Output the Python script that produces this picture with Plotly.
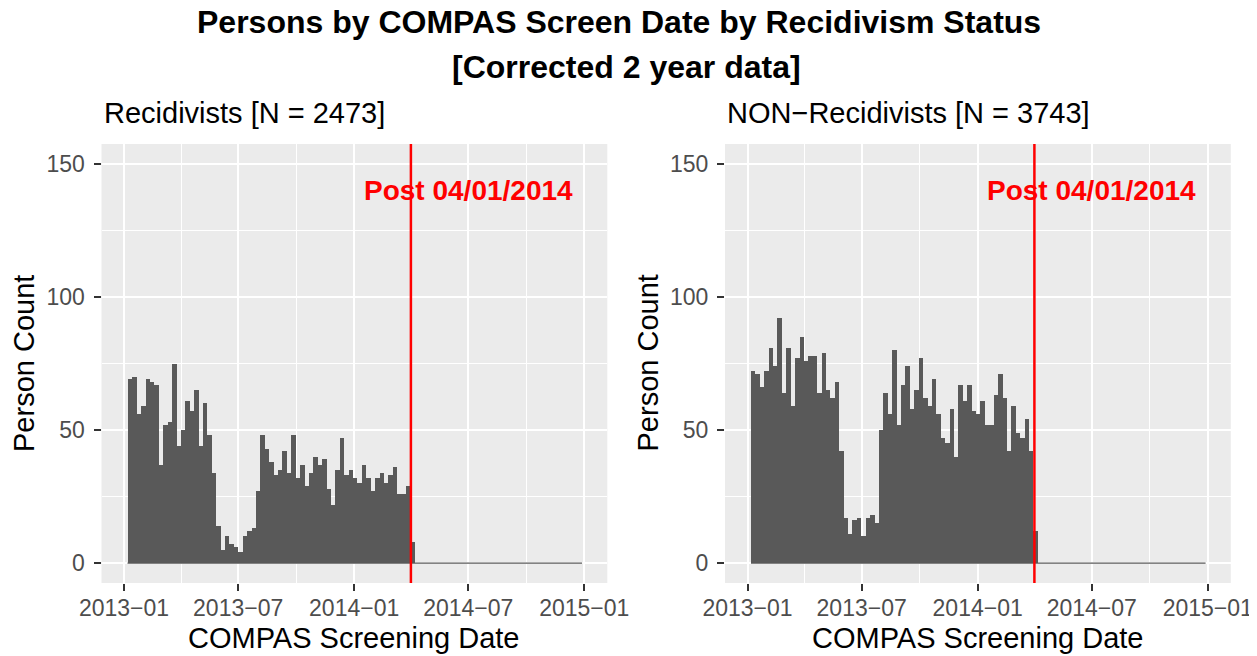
import plotly.graph_objects as go
import pandas as pd

# ---------------- data ----------------
title_line1 = "Persons by COMPAS Screen Date by Recidivism Status"
title_line2 = "[Corrected 2 year data]"
panel_titles = ["Recidivists [N = 2473]", "NON−Recidivists [N = 3743]"]
x_title = "COMPAS Screening Date"
y_title = "Person Count"

bin_start = "2013-01-06 12:00"
bin_width_days = 7

recid_counts = [69, 70, 56, 59, 69, 68, 67, 37, 52, 53,
                75, 44, 50, 61, 57, 65, 44, 60, 48, 34,
                14, 5, 10, 7, 6, 4, 10, 12, 13, 27,
                48, 43, 38, 33, 35, 42, 34, 48, 32, 37,
                29, 34, 40, 37, 39, 28, 22, 35, 47, 33,
                35, 32, 30, 37, 32, 27, 32, 34, 30, 33,
                36, 26, 26, 29, 8,
                0, 0, 0, 0, 0, 0, 0, 0, 0, 0,
                0, 0, 0, 0, 0, 0, 0, 0, 0, 0,
                0, 0, 0, 0, 0, 0, 0, 0, 0, 0,
                0, 0, 0, 0, 0, 0, 0, 0]

nonrecid_counts = [72, 71, 66, 72, 81, 74, 92, 64, 81, 59,
                   77, 85, 76, 78, 78, 64, 79, 65, 62, 68,
                   42, 17, 11, 16, 17, 10, 17, 18, 15, 50,
                   64, 56, 80, 52, 67, 74, 58, 65, 77, 62,
                   59, 69, 56, 47, 45, 58, 40, 67, 61, 67,
                   57, 56, 61, 52, 52, 63, 71, 62, 42, 59,
                   49, 47, 54, 42, 12,
                   0, 0, 0, 0, 0, 0, 0, 0, 0, 0,
                   0, 0, 0, 0, 0, 0, 0, 0, 0, 0,
                   0, 0, 0, 0, 0, 0, 0, 0, 0, 0,
                   0, 0, 0, 0, 0, 0, 0, 0]

cutoff_date = "2014-04-01"
cutoff_label = "Post 04/01/2014"
cutoff_label_x = "2014-07-01"
cutoff_label_y = 140

x_tick_vals = ["2013-01-01", "2013-07-01", "2014-01-01", "2014-07-01", "2015-01-01"]
x_tick_labels = ["2013−01", "2013−07", "2014−01", "2014−07", "2015−01"]
x_minor_vals = ["2013-04-01 12:00", "2013-10-01", "2014-04-01 12:00", "2014-10-01"]
y_tick_vals = [0, 50, 100, 150]
y_tick_labels = ["0", "50", "100", "150"]
y_minor_vals = [25, 75, 125]

# ---------------- layout constants ----------------
OFF = 8  # page body margin of the html page
W, H = 1257 - OFF, 656 - OFF
FONT = "Liberation Sans, Arial, sans-serif"
BAR = "#595959"
PANEL_BG = "#EBEBEB"
x_range = ["2012-11-26 07:00", "2015-02-06 12:00"]
y_range = [-7.5, 157.5]


def px(xr):
    return (xr - OFF) / W


def py(yr):
    return 1 - (yr - OFF) / H


panels_px = [(101.5, 607.3), (725.0, 1230.8)]
top_px, bottom_px = 144.0, 583.0
ydom = [py(bottom_px), py(top_px)]

# bins
start = pd.Timestamp(bin_start)
width = pd.Timedelta(days=bin_width_days)
n_bins = len(recid_counts)
centers = [start + width * (i + 0.5) for i in range(n_bins)]
edges = [start, start + width * n_bins]
width_ms = bin_width_days * 86400000

fig = go.Figure()

for k, counts in enumerate([recid_counts, nonrecid_counts]):
    xa = "x" if k == 0 else "x2"
    ya = "y" if k == 0 else "y2"
    fig.add_trace(go.Scatter(x=edges, y=[0, 0], mode="lines",
                             line=dict(color=BAR, width=1.2),
                             xaxis=xa, yaxis=ya, showlegend=False, hoverinfo="skip"))
    fig.add_trace(go.Bar(x=centers, y=counts, width=width_ms,
                         marker=dict(color=BAR, line=dict(width=0)),
                         xaxis=xa, yaxis=ya, showlegend=False))

axis_common = dict(
    showline=False, zeroline=False, automargin=False,
    showgrid=True, gridcolor="white", gridwidth=2.4,
    ticks="outside", ticklen=7, tickwidth=2.2, tickcolor="#333333",
    tickfont=dict(family=FONT, size=23, color="#4D4D4D"),
)

layout = dict(
    width=W, height=H,
    margin=dict(l=0, r=0, t=0, b=0, autoexpand=False),
    paper_bgcolor="white", plot_bgcolor=PANEL_BG,
    bargap=0, barmode="overlay",
    showlegend=False,
    font=dict(family=FONT),
)

for k, (x0, x1) in enumerate(panels_px):
    xname = "xaxis" if k == 0 else "xaxis2"
    yname = "yaxis" if k == 0 else "yaxis2"
    layout[xname] = dict(
        axis_common,
        domain=[px(x0), px(x1)], range=x_range, type="date",
        tickmode="array", tickvals=x_tick_vals, ticktext=x_tick_labels,
        minor=dict(tickmode="array", tickvals=x_minor_vals, showgrid=True,
                   gridcolor="white", gridwidth=1.3, ticks=""),
        anchor="y" if k == 0 else "y2",
        ticklabelstandoff=-3,
    )
    layout[yname] = dict(
        axis_common,
        domain=ydom, range=y_range,
        tickmode="array", tickvals=y_tick_vals, ticktext=y_tick_labels,
        minor=dict(tickmode="array", tickvals=y_minor_vals, showgrid=True,
                   gridcolor="white", gridwidth=1.3, ticks=""),
        anchor="x" if k == 0 else "x2",
        ticklabelstandoff=4,
    )

fig.update_layout(**layout)

annotations = []
shapes = []
annotations.append(dict(text="<b>" + title_line1 + "</b>", x=px(619), y=py(22),
                        xref="paper", yref="paper", xanchor="center", yanchor="middle",
                        showarrow=False, font=dict(family=FONT, size=32, color="black")))
annotations.append(dict(text="<b>" + title_line2 + "</b>", x=px(626), y=py(67),
                        xref="paper", yref="paper", xanchor="center", yanchor="middle",
                        showarrow=False, font=dict(family=FONT, size=32, color="black")))
for k, (x0, x1) in enumerate(panels_px):
    xa = "x" if k == 0 else "x2"
    ya = "y" if k == 0 else "y2"
    annotations.append(dict(text=panel_titles[k], x=px(x0), y=py(113),
                            xref="paper", yref="paper", xanchor="left", yanchor="middle",
                            showarrow=False, font=dict(family=FONT, size=29, color="black")))
    annotations.append(dict(text=x_title, x=px((x0 + x1) / 2), y=py(638),
                            xref="paper", yref="paper", xanchor="center", yanchor="middle",
                            showarrow=False, font=dict(family=FONT, size=29, color="black")))
    annotations.append(dict(text=y_title, x=px(x0 - 78), y=(ydom[0] + ydom[1]) / 2,
                            xref="paper", yref="paper", xanchor="center", yanchor="middle",
                            textangle=-90,
                            showarrow=False, font=dict(family=FONT, size=29, color="black")))
    annotations.append(dict(text="<b>" + cutoff_label + "</b>", x=cutoff_label_x, y=cutoff_label_y,
                            xref=xa, yref=ya, xanchor="center", yanchor="middle",
                            showarrow=False, font=dict(family=FONT, size=28, color="red")))
    shapes.append(dict(type="line", x0=cutoff_date, x1=cutoff_date, y0=0, y1=1,
                       xref=xa, yref=ya + " domain", line=dict(color="red", width=2.5),
                       layer="above"))

fig.update_layout(annotations=annotations, shapes=shapes)

fig.write_html("out.html")
